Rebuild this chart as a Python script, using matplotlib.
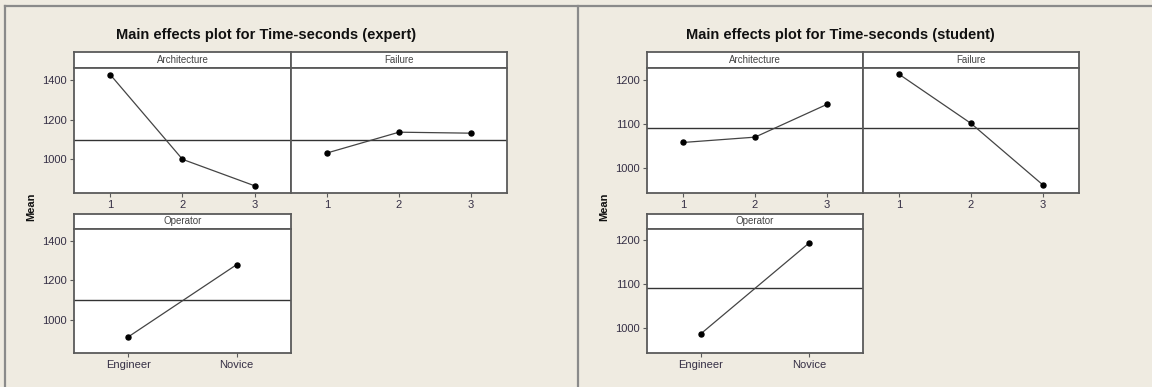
import numpy as np
import matplotlib.pyplot as plt
from matplotlib.lines import Line2D

plt.rcParams['font.family'] = ['Liberation Sans', 'DejaVu Sans']

# level means of Time-seconds per factor
arch_levels = ['1', '2', '3']
fail_levels = ['1', '2', '3']
oper_levels = ['Engineer', 'Novice']

expert_arch = [1428, 1000, 866]
expert_fail = [1032, 1137, 1132]
expert_oper = [912, 1280]

student_arch = [1058, 1070, 1144]
student_fail = [1212, 1101, 962]
student_oper = [988, 1194]

expert_ticks = [1000, 1200, 1400]
student_ticks = [1000, 1100, 1200]

W, H = 1152, 387
BG = '#EFEBE1'
EDGE = '#5a5a5a'
TXT = '#352f45'


def px(x0, y0, x1, y1):
    """Pixel box (top-left origin) -> figure fraction rect."""
    return [x0 / W, 1 - y1 / H, (x1 - x0) / W, (y1 - y0) / H]


def style(ax):
    for s in ax.spines.values():
        s.set_color(EDGE)
        s.set_linewidth(1.3)


def strip(fig, x0, x1, y0, y1, label):
    sax = fig.add_axes(px(x0, y0, x1, y1))
    sax.set_facecolor('white')
    sax.set_xticks([])
    sax.set_yticks([])
    style(sax)
    sax.text(0.5, 0.5, label, ha='center', va='center', fontsize=7,
             color='#444444', transform=sax.transAxes)


def panel(fig, x0, x1, y0, y1, levels, values, grand, ylim, ticks,
          show_y=True):
    ax = fig.add_axes(px(x0, y0, x1, y1))
    ax.set_facecolor('white')
    style(ax)
    pos = np.arange(1, len(levels) + 1)
    ax.plot(pos, values, color='#444444', lw=0.9, marker='o', ms=3.6,
            mfc='black', mec='black', zorder=3)
    ax.axhline(grand, color='#333333', lw=1.0, zorder=2)
    ax.set_xlim(0.5, len(levels) + 0.5)
    ax.set_ylim(*ylim)
    ax.set_xticks(pos)
    ax.set_xticklabels(levels)
    ax.set_yticks(ticks)
    ax.tick_params(direction='out', length=3, width=0.8, color=EDGE,
                   labelsize=8, labelcolor=TXT, pad=2)
    if not show_y:
        ax.tick_params(axis='y', length=0, labelleft=False)
    return ax


def effects(fig, off, title, arch, fail, oper, ylim, ticks, title_x):
    grand = np.mean([np.mean(arch), np.mean(fail), np.mean(oper)])
    xa0, xa1, xa2 = off[0], off[1], off[2]
    # top row: Architecture and Failure
    strip(fig, xa0, xa1, 52, 68, 'Architecture')
    strip(fig, xa1, xa2, 52, 68, 'Failure')
    panel(fig, xa0, xa1, 68, 193, arch_levels, arch, grand, ylim, ticks)
    panel(fig, xa1, xa2, 68, 193, fail_levels, fail, grand, ylim, ticks,
          show_y=False)
    # bottom row: Operator
    strip(fig, xa0, xa1, 214, 229, 'Operator')
    panel(fig, xa0, xa1, 229, 353, oper_levels, oper, grand, ylim, ticks)
    fig.text(title_x / W, 1 - 35 / H, title, ha='center', va='center',
             fontsize=10.5, fontweight='bold', color='#111111')
    fig.text((xa0 - 43) / W, 1 - 207 / H, 'Mean', rotation=90,
             ha='center', va='center', fontsize=8, fontweight='bold',
             color='#111111')


fig = plt.figure(figsize=(W / 100, H / 100), dpi=100, facecolor=BG)

effects(fig, (74, 291, 507), 'Main effects plot for Time-seconds (expert)',
        expert_arch, expert_fail, expert_oper, (830, 1461), expert_ticks, 266)
effects(fig, (647, 863, 1079), 'Main effects plot for Time-seconds (student)',
        student_arch, student_fail, student_oper, (944, 1226), student_ticks,
        840)

# window frames around the two graphs
frame = dict(color='#8a8a8a', lw=1.6, transform=fig.transFigure)
fig.add_artist(Line2D([5 / W, 5 / W], [0, 1 - 6 / H], **frame))
fig.add_artist(Line2D([5 / W, 1], [1 - 6 / H, 1 - 6 / H], **frame))
fig.add_artist(Line2D([578 / W, 578 / W], [0, 1 - 6 / H], **frame))

fig.savefig('out.png', dpi=100, facecolor=BG)
